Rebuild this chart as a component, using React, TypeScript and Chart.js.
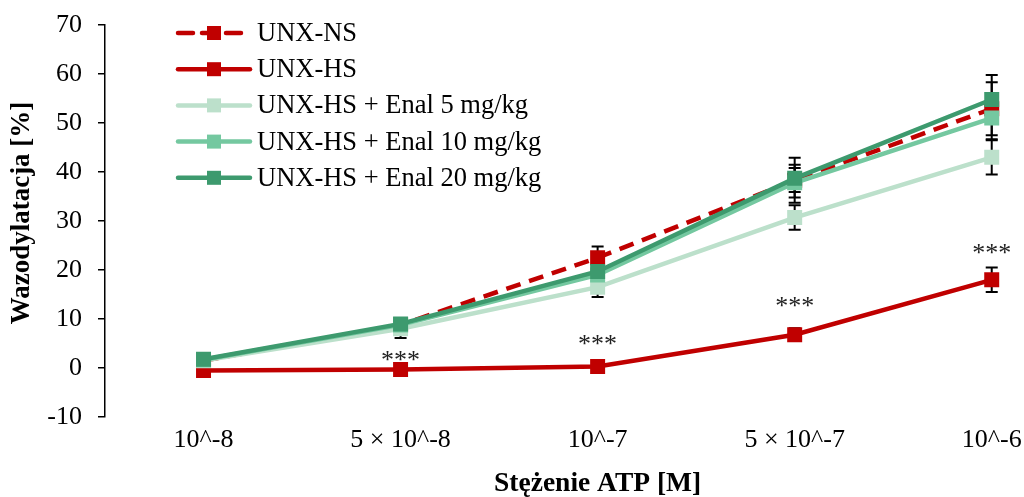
import React, { useEffect, useRef } from "react";
import { Chart, registerables } from "chart.js";

Chart.register(...registerables);

const categories = ["10^-8", "5 × 10^-8", "10^-7", "5 × 10^-7", "10^-6"];
const seriesNames = [
  "UNX-NS",
  "UNX-HS",
  "UNX-HS + Enal 5 mg/kg",
  "UNX-HS + Enal 10 mg/kg",
  "UNX-HS + Enal 20 mg/kg",
];
const unxNS = [1.5, 8.8, 22.5, 38.3, 52.9];
const unxHS = [-0.5, -0.3, 0.3, 6.8, 18.0];
const enal5 = [1.5, 8.0, 16.5, 30.7, 43.0];
const enal10 = [1.7, 8.8, 19.0, 37.8, 51.0];
const enal20 = [1.8, 9.0, 19.7, 38.7, 54.8];

const errNS = [0.8, 1.0, 2.3, 4.6, 5.4];
const errHS = [0.8, 0.8, 0.8, 1.3, 2.5];
const err5 = [0.8, 1.9, 2.0, 2.5, 3.5];
const err10 = [0.8, 1.0, 2.0, 3.0, 4.3];
const err20 = [0.8, 1.0, 2.0, 2.8, 5.0];

const sigLabels = ["", "***", "***", "***", "***"];
const sigY = [0, 2.3, 5.5, 13.3, 24.0];

const yTicks = [-10, 0, 10, 20, 30, 40, 50, 60, 70];

const xTitle = "Stężenie ATP [M]";
const yTitle = "Wazodylatacja [%]";

const colors = ["#C00000", "#C00000", "#BCE0CB", "#74C8A0", "#3D9A6E"];
const dashes = [[15, 9], [], [], [], []];

const FONT = "'Liberation Serif', 'Times New Roman', serif";

export default function App() {
  const ref = useRef<HTMLCanvasElement | null>(null);

  useEffect(() => {
    document.body.style.margin = "0";
    const canvas = ref.current;
    if (!canvas) return;
    const allValues = [unxNS, unxHS, enal5, enal10, enal20];
    const allErr = [errNS, errHS, err5, err10, err20];

    const errorBars = {
      id: "errorBars",
      beforeDatasetsDraw(chart: any) {
        const ctx = chart.ctx;
        const xs = chart.scales.x;
        const ys = chart.scales.y;
        ctx.save();
        ctx.strokeStyle = "#000";
        ctx.lineWidth = 2;
        allValues.forEach((vals, si) => {
          vals.forEach((v, i) => {
            const e = allErr[si][i];
            const x = xs.getPixelForValue(i);
            const yt = ys.getPixelForValue(v + e);
            const yb = ys.getPixelForValue(v - e);
            ctx.beginPath();
            ctx.moveTo(x, yt);
            ctx.lineTo(x, yb);
            ctx.moveTo(x - 6, yt);
            ctx.lineTo(x + 6, yt);
            ctx.moveTo(x - 6, yb);
            ctx.lineTo(x + 6, yb);
            ctx.stroke();
          });
        });
        ctx.restore();
      },
    };

    const overlay = {
      id: "overlay",
      afterDraw(chart: any) {
        const ctx = chart.ctx;
        const xs = chart.scales.x;
        const ys = chart.scales.y;
        ctx.save();
        // significance marks
        ctx.fillStyle = "#222";
        ctx.font = `26px ${FONT}`;
        ctx.textAlign = "center";
        ctx.textBaseline = "middle";
        sigLabels.forEach((s, i) => {
          if (!s) return;
          ctx.fillText(s, xs.getPixelForValue(i), ys.getPixelForValue(sigY[i]) + 4);
        });
        // axis titles (centred on the plotted categories like the original)
        ctx.fillStyle = "#000";
        ctx.font = `bold 27.5px ${FONT}`;
        ctx.textAlign = "center";
        ctx.textBaseline = "middle";
        const xMid = (xs.getPixelForValue(0) + xs.getPixelForValue(categories.length - 1)) / 2;
        ctx.fillText(xTitle, xMid, 484);
        ctx.save();
        ctx.translate(22, (chart.chartArea.top + chart.chartArea.bottom) / 2 - 8);
        ctx.rotate(-Math.PI / 2);
        ctx.font = `bold 27px ${FONT}`;
        ctx.fillText(yTitle, 0, 0);
        ctx.restore();
        // legend
        const x0 = 178;
        const x1 = 250;
        const mx = (x0 + x1) / 2;
        seriesNames.forEach((name, si) => {
          const y = 33 + si * 36.2;
          ctx.strokeStyle = colors[si];
          ctx.lineWidth = 4.5;
          ctx.lineCap = "round";
          ctx.setLineDash(dashes[si]);
          ctx.beginPath();
          ctx.moveTo(x0, y);
          ctx.lineTo(x1, y);
          ctx.stroke();
          ctx.setLineDash([]);
          ctx.fillStyle = colors[si];
          ctx.fillRect(mx - 7, y - 7, 14, 14);
          ctx.fillStyle = "#000";
          ctx.font = `26.5px ${FONT}`;
          ctx.textAlign = "left";
          ctx.textBaseline = "middle";
          ctx.fillText(name, 257, y + 1);
        });
        ctx.restore();
      },
    };

    const datasets = allValues.map((vals, si) => ({
      label: seriesNames[si],
      data: vals.map((v, i) => ({ x: i, y: v })),
      borderColor: colors[si],
      backgroundColor: colors[si],
      borderWidth: 4.5,
      borderDash: dashes[si],
      pointStyle: "rect",
      pointRadius: 10.6,
      pointBorderWidth: 0,
      pointBackgroundColor: colors[si],
      pointBorderColor: colors[si],
      tension: 0,
      order: 5 - si,
    }));

    const chart = new Chart(canvas, {
      type: "line",
      data: { datasets },
      options: {
        animation: false,
        responsive: false,
        layout: { padding: { top: 25, right: 4, left: 5, bottom: 0 } },
        plugins: { legend: { display: false }, tooltip: { enabled: false } },
        scales: {
          x: {
            type: "linear",
            min: -0.5,
            max: 4.11,
            afterBuildTicks(scale: any) {
              scale.ticks = categories.map((_, i) => ({ value: i }));
            },
            afterFit(scale: any) {
              scale.height = 80;
              scale.paddingLeft = 0;
              scale.paddingRight = 0;
            },
            ticks: {
              callback: (v: any) => categories[Number(v)] ?? "",
              color: "#000",
              font: { family: FONT, size: 26 },
              padding: 8,
              maxRotation: 0,
              autoSkip: false,
            },
            grid: { display: false, drawTicks: false },
            border: { display: false },
            title: { display: false },
          },
          y: {
            min: -10,
            max: 70,
            afterBuildTicks(scale: any) {
              scale.ticks = yTicks.map((v) => ({ value: v }));
            },
            afterFit(scale: any) {
              scale.width = 100;
              scale.paddingTop = 0;
              scale.paddingBottom = 0;
            },
            ticks: {
              color: "#000",
              font: { family: FONT, size: 26 },
              padding: 16,
            },
            grid: {
              drawOnChartArea: false,
              drawTicks: true,
              tickLength: 7,
              color: "#000",
              lineWidth: 1.5,
            },
            border: { display: true, color: "#000", width: 1.5 },
            title: { display: false },
          },
        },
      },
      plugins: [errorBars, overlay],
    });
    return () => chart.destroy();
  }, []);

  return (
    <div style={{ width: 1024, height: 497, background: "#fff" }}>
      <canvas ref={ref} width={1024} height={497} />
    </div>
  );
}
